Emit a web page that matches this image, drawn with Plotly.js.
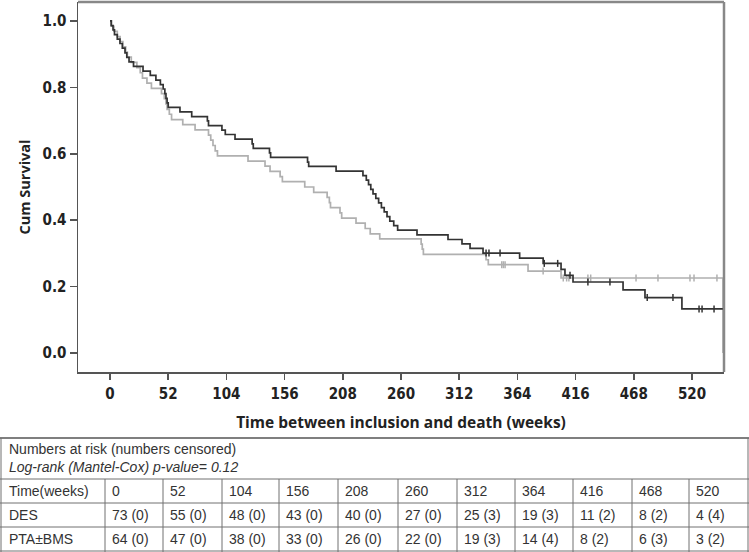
<!DOCTYPE html>
<html>
<head>
<meta charset="utf-8">
<script src="https://cdn.plot.ly/plotly-3.0.1.min.js"></script>
<style>
html,body{margin:0;padding:0;background:#fff;}
#chart{width:749px;height:552px;}
</style>
</head>
<body>
<div id="chart"></div>
<script>
// ---------- DATA ----------
// DES Kaplan-Meier steps: time (weeks) and survival after each step
var desTime = [0, 1, 2.7, 4, 6.5, 8.9, 11, 13.4, 15, 17, 21, 29.5, 36, 41, 45, 47.5, 49, 50, 51, 52,
  62.5, 73, 87, 88, 100, 103, 111.7, 127, 128, 142.5, 143.5, 176.5, 177.5, 202, 226, 229, 231, 233, 235,
  237.5, 240, 242.5, 245, 247.5, 250, 253.5, 257, 274.3, 302, 314.5, 321.7, 333.3, 366, 387, 403, 406.5,
  413.7, 458.4, 478, 511, 547.7];
var desSurv = [1.000, 0.986, 0.973, 0.959, 0.945, 0.932, 0.918, 0.904, 0.890, 0.877, 0.863, 0.849, 0.836,
  0.822, 0.808, 0.795, 0.781, 0.767, 0.753, 0.740, 0.726, 0.712, 0.699, 0.685, 0.671, 0.658, 0.644, 0.630,
  0.616, 0.603, 0.589, 0.575, 0.562, 0.548, 0.534, 0.521, 0.507, 0.493, 0.479, 0.466, 0.452, 0.438, 0.425,
  0.411, 0.397, 0.384, 0.370, 0.356, 0.342, 0.329, 0.315, 0.301, 0.286, 0.270, 0.252, 0.234, 0.214, 0.190,
  0.167, 0.133, 0.133];
var desCensorTime = [336, 338.6, 348.5, 388, 400, 411, 427, 446.7, 480, 503, 526.3, 529, 539.7];

// PTA±BMS Kaplan-Meier steps
var ptaTime = [0, 1.5, 3.5, 6.5, 9, 11.5, 14, 15.5, 19, 24, 27, 29, 33, 37, 46, 48.5, 50, 51, 53, 55,
  65, 76, 88, 90, 92, 94, 96, 123.3, 138.5, 143, 152, 154, 174, 182, 194, 196, 197, 205.5, 207, 219.8,
  228, 232.5, 241, 278, 279, 280, 336, 338, 373.5, 403, 547.7];
var ptaSurv = [1.000, 0.984, 0.969, 0.953, 0.938, 0.922, 0.906, 0.891, 0.875, 0.859, 0.844, 0.828, 0.813,
  0.797, 0.781, 0.766, 0.750, 0.734, 0.719, 0.703, 0.688, 0.672, 0.656, 0.641, 0.625, 0.609, 0.594, 0.578,
  0.563, 0.547, 0.531, 0.516, 0.500, 0.484, 0.469, 0.453, 0.438, 0.422, 0.406, 0.391, 0.375, 0.359, 0.344,
  0.328, 0.313, 0.297, 0.281, 0.266, 0.247, 0.226, 0.000];
var ptaCensorTime = [350, 351.5, 353, 387, 405, 408, 410, 427, 429.5, 470, 489.6, 518.2, 521.8, 542.3];

// Axis ticks
var xTicks = [0, 52, 104, 156, 208, 260, 312, 364, 416, 468, 520];
var yTicks = [0.0, 0.2, 0.4, 0.6, 0.8, 1.0];
var yTickText = ["0.0", "0.2", "0.4", "0.6", "0.8", "1.0"];

// Numbers-at-risk table
var tableNote1 = "Numbers at risk (numbers censored)";
var tableNote2 = "Log-rank (Mantel-Cox) p-value= 0.12";
var rowLabels = ["Time(weeks)", "DES", "PTA\u00B1BMS"];
var riskTimes = [0, 52, 104, 156, 208, 260, 312, 364, 416, 468, 520];
var desAtRisk = [73, 55, 48, 43, 40, 27, 25, 19, 11, 8, 4];
var desCensored = [0, 0, 0, 0, 0, 0, 3, 3, 2, 2, 4];
var ptaAtRisk = [64, 47, 38, 33, 26, 22, 19, 14, 8, 6, 3];
var ptaCensored = [0, 0, 0, 0, 0, 0, 3, 4, 2, 3, 2];

// ---------- LAYOUT HELPERS ----------
var W = 749, H = 552;
var M = {l: 78, r: 25, t: 2, b: 180};
var plotW = W - M.l - M.r, plotH = H - M.t - M.b;
function PX(px) { return (px - M.l) / plotW; }
function PY(py) { return (H - M.b - py) / plotH; }

function stepValue(times, surv, t) {
  var v = surv[0];
  for (var i = 0; i < times.length; i++) { if (times[i] <= t) v = surv[i]; else break; }
  return v;
}

var darkCol = '#333333', lightCol = '#b0b0b0';

var traces = [
  {x: ptaTime, y: ptaSurv, type: 'scatter', mode: 'lines', line: {shape: 'hv', color: lightCol, width: 1.7}, name: 'PTA\u00B1BMS', hoverinfo: 'skip'},
  {x: ptaCensorTime, y: ptaCensorTime.map(function(t){return stepValue(ptaTime, ptaSurv, t);}), type: 'scatter', mode: 'markers',
   marker: {symbol: 'line-ns', size: 5, line: {color: lightCol, width: 1.5}}, hoverinfo: 'skip'},
  {x: desTime, y: desSurv, type: 'scatter', mode: 'lines', line: {shape: 'hv', color: darkCol, width: 1.7}, name: 'DES', hoverinfo: 'skip'},
  {x: desCensorTime, y: desCensorTime.map(function(t){return stepValue(desTime, desSurv, t);}), type: 'scatter', mode: 'markers',
   marker: {symbol: 'line-ns', size: 5, line: {color: darkCol, width: 1.5}}, hoverinfo: 'skip'}
];

// ---------- TABLE (shapes + annotations) ----------
var colEdges = [1, 105, 163, 222, 279, 338, 398, 457, 515, 573, 632, 689, 748];
var rowTop = 438, rowLines = [479, 503, 527, 551];
var gridCol = '#707070';
var shapes = [];
function hline(py, x0, x1, w, c) {
  shapes.push({type: 'line', xref: 'paper', yref: 'paper', x0: PX(x0), x1: PX(x1), y0: PY(py), y1: PY(py), line: {color: c || gridCol, width: w || 1}});
}
function vline(px, y0, y1, w, c) {
  shapes.push({type: 'line', xref: 'paper', yref: 'paper', x0: PX(px), x1: PX(px), y0: PY(y0), y1: PY(y1), line: {color: c || gridCol, width: w || 1}});
}
hline(rowTop, 0, W, 1.5, '#555');
rowLines.forEach(function(r){ hline(r, 0, W, 1); });
vline(colEdges[0], rowTop, 552, 1);
vline(colEdges[colEdges.length - 1], rowTop, 552, 1);
for (var c = 1; c < colEdges.length - 1; c++) vline(colEdges[c], rowLines[0], 552, 1);

// Plot frame: top and right edges
shapes.push({type: 'line', xref: 'paper', yref: 'paper', x0: 0, x1: 1, y0: 1, y1: 1, line: {color: '#888', width: 2.5}});
shapes.push({type: 'line', xref: 'paper', yref: 'paper', x0: 1, x1: 1, y0: 0, y1: 1, line: {color: '#888', width: 2.5}});

var tFont = {family: 'Liberation Sans, Arial, sans-serif', size: 14, color: '#333'};
var annotations = [];
function addText(txt, px, py, font) {
  annotations.push({text: txt, xref: 'paper', yref: 'paper', x: PX(px), y: PY(py), xanchor: 'left', yanchor: 'middle',
    showarrow: false, font: font || tFont, borderpad: 0});
}
addText(tableNote1, 8, 449);
addText('<i>' + tableNote2 + '</i>', 8, 467);
var rowMid = [491, 515, 539];
rowLabels.forEach(function(lbl, i){ addText(lbl, 8, rowMid[i]); });
for (var j = 0; j < riskTimes.length; j++) {
  var cx = colEdges[j + 1] + 6;
  addText(String(riskTimes[j]), cx, rowMid[0]);
  addText(desAtRisk[j] + ' (' + desCensored[j] + ')', cx, rowMid[1]);
  addText(ptaAtRisk[j] + ' (' + ptaCensored[j] + ')', cx, rowMid[2]);
}

var axFont = {family: 'Liberation Sans Narrow, DejaVu Sans Condensed, Arial Narrow, sans-serif', size: 15, color: '#222', weight: 700};

var layout = {
  width: W, height: H,
  margin: M,
  paper_bgcolor: '#fff', plot_bgcolor: '#fff',
  showlegend: false,
  xaxis: {
    range: [-28.6, 548.6], tickvals: xTicks, ticktext: xTicks.map(String),
    ticks: 'outside', ticklen: 6, tickwidth: 1.5, tickcolor: '#555',
    showline: true, linecolor: '#555', linewidth: 1.5, showgrid: false, zeroline: false,
    tickfont: axFont, ticklabelstandoff: 1,
    title: {text: 'Time between inclusion and death (weeks)', font: {family: 'Open Sans, DejaVu Sans, sans-serif', size: 15.5, color: '#222', weight: 700}, standoff: 15}
  },
  yaxis: {
    range: [-0.057, 1.057], tickvals: yTicks, ticktext: yTickText,
    ticks: 'outside', ticklen: 7, tickwidth: 1.5, tickcolor: '#555',
    showline: true, linecolor: '#555', linewidth: 1.5, showgrid: false, zeroline: false,
    tickfont: axFont, ticklabelstandoff: 0,
    title: {text: 'Cum Survival', font: {family: 'Open Sans, DejaVu Sans, sans-serif', size: 14.5, color: '#222', weight: 700}, standoff: 8}
  },
  shapes: shapes,
  annotations: annotations
};

Plotly.newPlot('chart', traces, layout, {displayModeBar: false, staticPlot: true});
</script>
</body>
</html>
